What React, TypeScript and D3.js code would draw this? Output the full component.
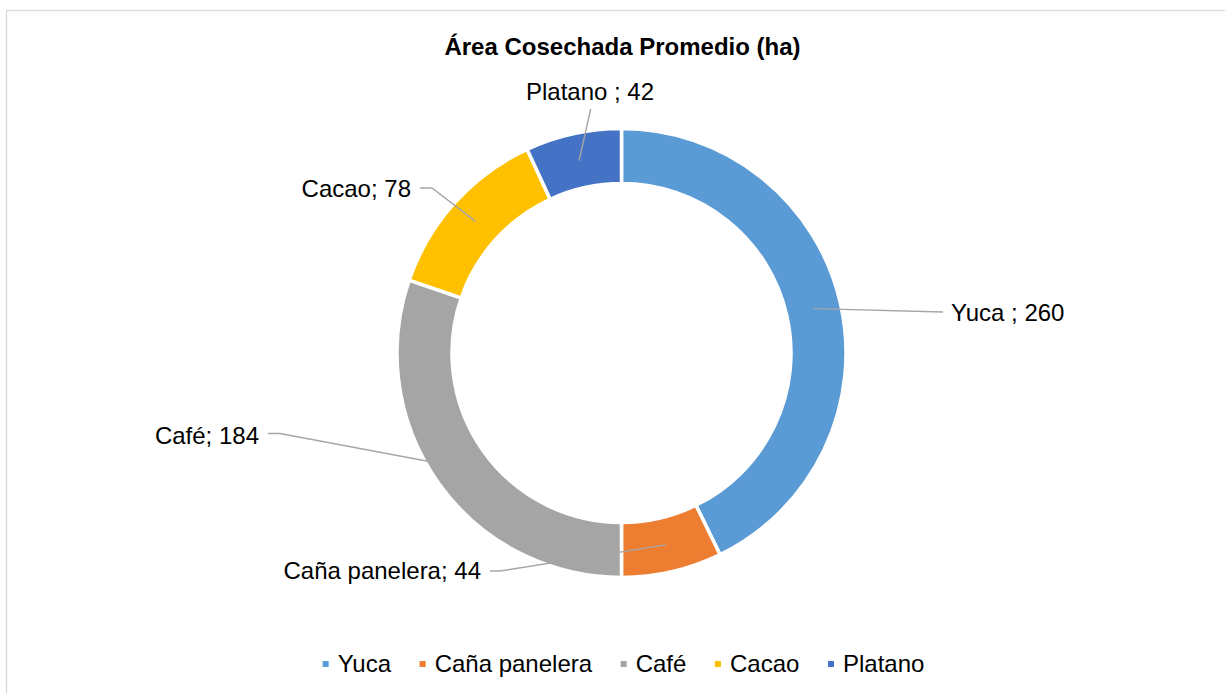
import React from 'react';
import * as d3 from 'd3';

// ---- data ----
const categories = ['Yuca ', 'Caña panelera', 'Café', 'Cacao', 'Platano '];
const values = [260, 44, 184, 78, 42];
const colors = ['#5B9BD5', '#ED7D31', '#A5A5A5', '#FFC000', '#4472C4'];
const title = 'Área Cosechada Promedio (ha)';

// ---- layout (not data) ----
const W = 1225;
const H = 693;
const CX = 621.5;
const CY = 353;
const R_OUT = 224.5;
const R_IN = 169.5;
const FONT = '"Liberation Sans", Arial, Helvetica, sans-serif';
const FS = 24;

// label anchors and leader elbow points (absolute px)
const labelLayout = [
  { x: 951, y: 321, anchor: 'start', elbow: [[943, 312]] },
  { x: 481, y: 579, anchor: 'end', elbow: [[490, 571], [500, 571]] },
  { x: 259, y: 444, anchor: 'end', elbow: [[268, 433.5], [280, 433.5]] },
  { x: 411, y: 197, anchor: 'end', elbow: [[420, 188], [432, 188]] },
  { x: 590, y: 100, anchor: 'middle', elbow: [[590.7, 109]] },
];

function measure(text: string, font: string): number {
  if (typeof document === 'undefined') return text.length * 12;
  const c = document.createElement('canvas');
  const ctx = c.getContext('2d');
  if (!ctx) return text.length * 12;
  ctx.font = font;
  return ctx.measureText(text).width;
}

export default function App() {
  const pie = d3.pie<number>().value((d) => d).sort(null);
  const arcs = pie(values);
  const arc = d3.arc<d3.PieArcDatum<number>>().innerRadius(R_IN).outerRadius(R_OUT);
  const line = d3.line();

  // legend layout
  const legendFont = `${FS}px ${FONT}`;
  const markerSize = 6;
  const textOffset = 15;
  const gap = 28.6;
  const names = categories.map((c) => c.trim());
  const widths = names.map((n) => measure(n, legendFont));
  const itemW = widths.map((w) => textOffset + w);
  const total = d3.sum(itemW) + gap * (names.length - 1);
  let lx = 623.5 - total / 2;
  const legendX: number[] = [];
  itemW.forEach((w) => {
    legendX.push(lx);
    lx += w + gap;
  });
  const legendY = 672;

  return (
    <svg
      width={W}
      height={H}
      viewBox={`0 0 ${W} ${H}`}
      style={{ position: 'absolute', left: 0, top: 0, background: '#fff' }}
    >
      <rect x={0} y={0} width={W} height={H} fill="#fff" />
      <rect x={6.5} y={10.5} width={W + 20} height={H + 20} fill="none" stroke="#d9d9d9" strokeWidth={1.3} />
      <text
        x={622.5}
        y={55}
        textAnchor="middle"
        fontFamily={FONT}
        fontWeight="bold"
        fontSize={24}
        fill="#000"
      >
        {title}
      </text>
      <g transform={`translate(${CX},${CY})`}>
        {arcs.map((a, i) => (
          <path key={i} d={arc(a) || ''} fill={colors[i]} stroke="#fff" strokeWidth={3.5} />
        ))}
      </g>
      {arcs.map((a, i) => {
        const [mx, my] = arc.centroid(a);
        const L = labelLayout[i];
        const pts: [number, number][] = [
          ...(L.elbow as [number, number][]),
          [CX + mx, CY + my],
        ];
        return (
          <g key={i}>
            <path d={line(pts) || ''} fill="none" stroke="#a6a6a6" strokeWidth={1.4} />
            <text
              x={L.x}
              y={L.y}
              textAnchor={L.anchor as any}
              fontFamily={FONT}
              fontSize={FS}
              fill="#000"
            >
              {`${categories[i]}; ${values[i]}`}
            </text>
          </g>
        );
      })}
      {names.map((n, i) => (
        <g key={n}>
          <rect
            x={legendX[i]}
            y={legendY - 8 - markerSize / 2}
            width={markerSize}
            height={markerSize}
            fill={colors[i]}
          />
          <text x={legendX[i] + textOffset} y={legendY} fontFamily={FONT} fontSize={FS} fill="#000">
            {n}
          </text>
        </g>
      ))}
    </svg>
  );
}
